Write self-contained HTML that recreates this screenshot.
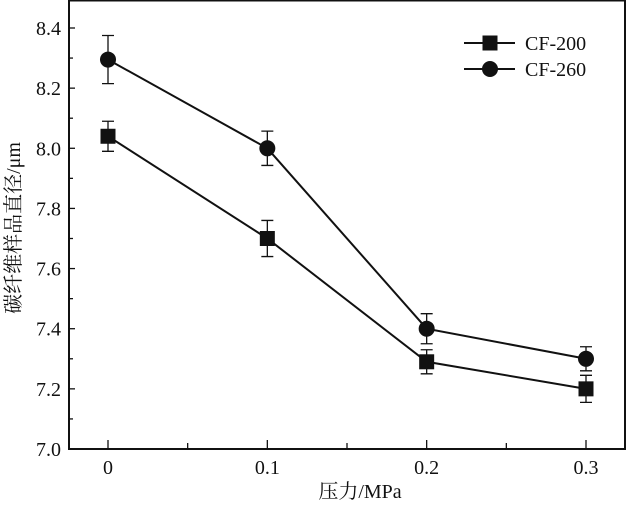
<!DOCTYPE html>
<html><head><meta charset="utf-8"><style>
html,body{margin:0;padding:0;background:#fff}
svg{display:block}
text{font-family:"Liberation Serif","Noto Serif CJK SC",serif;fill:#111}
</style></head><body>
<svg id="chart" width="628" height="505" viewBox="0 0 628 505">
<g id="axes"></g>
<g id="series"></g>
<g id="legend"></g>
<text x="360" y="498" font-size="20" text-anchor="middle">压力/MPa</text>
<text transform="translate(20,228) rotate(-90)" font-size="20" text-anchor="middle">碳纤维样品直径/μm</text>
</svg>
<script>
const categories=[0,0.1,0.2,0.3];
const xTickLabels=["0","0.1","0.2","0.3"];
const yTicks=[7.0,7.2,7.4,7.6,7.8,8.0,8.2,8.4];
const yTickLabels=["7.0","7.2","7.4","7.6","7.8","8.0","8.2","8.4"];
const seriesNames=["CF-200","CF-260"];
const cf200=[8.04,7.70,7.29,7.20];
const cf200Err=[0.05,0.06,0.04,0.045];
const cf260=[8.295,8.0,7.40,7.30];
const cf260Err=[0.08,0.057,0.05,0.04];

const NS="http://www.w3.org/2000/svg";
const L=69,R=625,T=0,B=449;
const x0=108,x1=586;
function xs(v){return x0+(v-0)/(0.3)*(x1-x0);}
function ys(v){return 449-(v-7.0)/1.4*(449-28);}
function mk(tag,attrs,parent){const e=document.createElementNS(NS,tag);for(const k in attrs)e.setAttribute(k,attrs[k]);parent.appendChild(e);return e;}
const ax=document.getElementById('axes');
const frame=mk('rect',{x:L,y:T+0.5,width:R-L,height:B-T-0.5,fill:'none',stroke:'#111','stroke-width':2},ax);


yTicks.forEach((v,i)=>{
  const y=ys(v);
  const t=mk('line',{x1:L,x2:L+6,y1:y,y2:y,stroke:'#111','stroke-width':1.3},ax);
  
  
  if(i<yTicks.length-1){const ym=ys(v+0.1);const m=mk('line',{x1:L,x2:L+4,y1:ym,y2:ym,stroke:'#111','stroke-width':1.3},ax);
  
  }
  const lb=mk('text',{x:L-8,y:y+7,'font-size':20,'text-anchor':'end'},ax);lb.textContent=yTickLabels[i];
  
  
});
categories.forEach((c,i)=>{
  const x=xs(c);
  const t=mk('line',{x1:x,x2:x,y1:B,y2:B-9,stroke:'#111','stroke-width':1.3},ax);
  
  
  if(i<categories.length-1){const xm=xs(c+0.05);const m=mk('line',{x1:xm,x2:xm,y1:B,y2:B-6,stroke:'#111','stroke-width':1.3},ax);
  
  }
  const lb=mk('text',{x:x,y:474,'font-size':20,'text-anchor':'middle'},ax);lb.textContent=xTickLabels[i];
  
  
});
const sg=document.getElementById('series');
function marker(shape,x,y,parent){
  let m;
  if(shape==='square')m=mk('rect',{x:x-7.5,y:y-7.5,width:15,height:15,fill:'#111'},parent);
  else m=mk('circle',{cx:x,cy:y,r:8,fill:'#111'},parent);
  return m;
}
function drawSeries(vals,errs,shape,name){
  const g=mk('g',{},sg);
  
  
  const pts=vals.map((v,i)=>xs(categories[i])+','+ys(v)).join(' ');
  const pl=mk('polyline',{points:pts,fill:'none',stroke:'#111','stroke-width':2},g);
  
  
  vals.forEach((v,i)=>{
    const x=xs(categories[i]),yt=ys(v+errs[i]),yb=ys(v-errs[i]);
    const eb=mk('path',{d:`M${x},${yt}V${yb}M${x-6},${yt}H${x+6}M${x-6},${yb}H${x+6}`,stroke:'#111','stroke-width':1.3,fill:'none'},g);
    
    
    const m=marker(shape,x,ys(v),g);
    
    
  });
}
drawSeries(cf200,cf200Err,'square','cf-200');
drawSeries(cf260,cf260Err,'circle','cf-260');
const lg=document.getElementById('legend');
[['square',43],['circle',69]].forEach((s,i)=>{
  const g=mk('g',{},lg);
  
  
  mk('line',{x1:464,x2:515,y1:s[1],y2:s[1],stroke:'#111','stroke-width':2},g);
  marker(s[0],490,s[1],g);
  const t=mk('text',{x:525,y:s[1]+7,'font-size':20},g);t.textContent=seriesNames[i];
});
</script>
</body></html>
